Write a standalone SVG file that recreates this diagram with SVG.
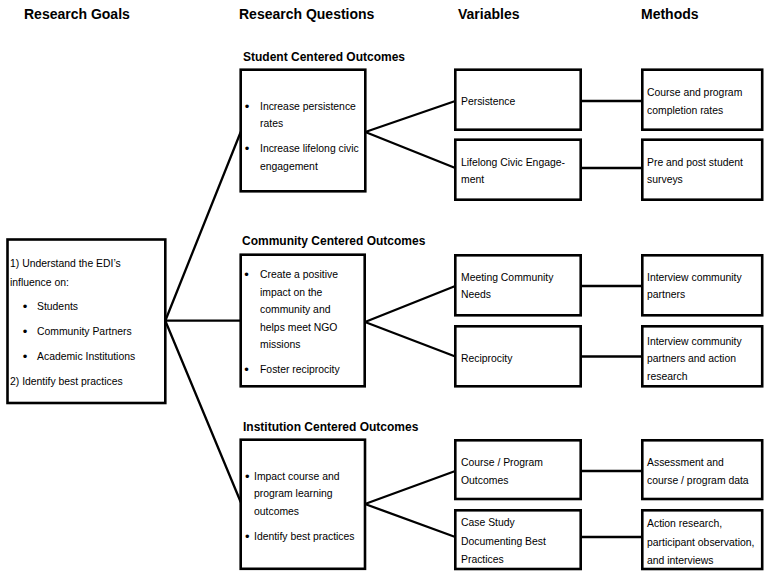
<svg xmlns="http://www.w3.org/2000/svg" width="764" height="571" viewBox="0 0 764 571">
<style>
.box{fill:#fff;stroke:#000;stroke-width:2.6}
.ln{stroke:#000;stroke-width:2.3;fill:none;stroke-linecap:round}
text{font-family:"Liberation Sans",Arial,sans-serif;fill:#000}
.h{font-size:14px;font-weight:bold}
.st{font-size:12px;font-weight:bold}
.t{font-size:10.4px}
.b{font-size:13px;text-anchor:middle}
</style>
<rect width="764" height="571" fill="#fff"/>
<g id="headers">
<text class="h" x="24" y="19">Research Goals</text>
<text class="h" x="239" y="19">Research Questions</text>
<text class="h" x="458" y="19">Variables</text>
<text class="h" x="641" y="19">Methods</text>
<text class="st" x="243" y="61">Student Centered Outcomes</text>
<text class="st" x="242" y="245">Community Centered Outcomes</text>
<text class="st" x="243" y="431">Institution Centered Outcomes</text>
</g>
<g id="connectors">
<line class="ln" x1="165.3" y1="320.7" x2="240.7" y2="132"/>
<line class="ln" x1="165.3" y1="320.7" x2="240.7" y2="320.7"/>
<line class="ln" x1="165.3" y1="320.7" x2="240.7" y2="502"/>
<line class="ln" x1="365.3" y1="132" x2="455.3" y2="101"/>
<line class="ln" x1="365.3" y1="132" x2="455.3" y2="168"/>
<line class="ln" x1="365" y1="322" x2="455.3" y2="286"/>
<line class="ln" x1="365" y1="322" x2="455.3" y2="356.5"/>
<line class="ln" x1="365" y1="504" x2="455.3" y2="471"/>
<line class="ln" x1="365" y1="504" x2="455.3" y2="537"/>
<line class="ln" x1="580.7" y1="101" x2="642.3" y2="101"/>
<line class="ln" x1="580.7" y1="168" x2="642.3" y2="168"/>
<line class="ln" x1="580.7" y1="286" x2="642.3" y2="286"/>
<line class="ln" x1="580.7" y1="356.5" x2="642.3" y2="356.5"/>
<line class="ln" x1="580.7" y1="471" x2="642.3" y2="471"/>
<line class="ln" x1="580.7" y1="537" x2="642.3" y2="537"/>
</g>
<g id="goal">
<rect class="box" x="7.5" y="239.5" width="157.8" height="163.5"/>
<text class="t" x="10" y="267">1) Understand the EDI’s</text>
<text class="t" x="10" y="286">influence on:</text>
<text class="b" x="25" y="311">•</text><text class="t" x="37" y="310">Students</text>
<text class="b" x="25" y="336">•</text><text class="t" x="37" y="335">Community Partners</text>
<text class="b" x="25" y="361">•</text><text class="t" x="37" y="360">Academic Institutions</text>
<text class="t" x="10" y="385">2) Identify best practices</text>
</g>
<g id="q-student">
<rect class="box" x="240.7" y="69.7" width="124.6" height="121.6"/>
<text class="b" x="247" y="111">•</text><text class="t" x="260" y="110">Increase persistence</text>
<text class="t" x="260" y="127">rates</text>
<text class="b" x="247" y="153">•</text><text class="t" x="260" y="152">Increase lifelong civic</text>
<text class="t" x="260" y="170">engagement</text>
</g>
<g id="q-community">
<rect class="box" x="240.7" y="254.7" width="124" height="131.6"/>
<text class="b" x="246.5" y="279">•</text><text class="t" x="260" y="278">Create a positive</text>
<text class="t" x="260" y="296">impact on the</text>
<text class="t" x="260" y="313">community and</text>
<text class="t" x="260" y="331">helps meet NGO</text>
<text class="t" x="260" y="348">missions</text>
<text class="b" x="246.5" y="374">•</text><text class="t" x="260" y="373">Foster reciprocity</text>
</g>
<g id="q-institution">
<rect class="box" x="240.7" y="439.7" width="124.3" height="129.1"/>
<text class="b" x="247.3" y="481">•</text><text class="t" x="254" y="480">Impact course and</text>
<text class="t" x="254" y="497">program learning</text>
<text class="t" x="254" y="515">outcomes</text>
<text class="b" x="247.3" y="541">•</text><text class="t" x="254" y="540">Identify best practices</text>
</g>
<g id="v-persistence">
<rect class="box" x="455.3" y="69.7" width="125.4" height="60"/>
<text class="t" x="461" y="105">Persistence</text>
</g>
<g id="v-civic">
<rect class="box" x="455.3" y="139.7" width="125.4" height="60"/>
<text class="t" x="461" y="166">Lifelong Civic Engage-</text>
<text class="t" x="461" y="183">ment</text>
</g>
<g id="v-needs">
<rect class="box" x="455.3" y="255.3" width="125.4" height="60"/>
<text class="t" x="461" y="281">Meeting Community</text>
<text class="t" x="461" y="298">Needs</text>
</g>
<g id="v-reciprocity">
<rect class="box" x="455.3" y="326.3" width="125.4" height="60"/>
<text class="t" x="461" y="362">Reciprocity</text>
</g>
<g id="v-outcomes">
<rect class="box" x="455.3" y="440.3" width="125.4" height="58.7"/>
<text class="t" x="461" y="466">Course / Program</text>
<text class="t" x="461" y="484">Outcomes</text>
</g>
<g id="v-casestudy">
<rect class="box" x="455.3" y="510.3" width="125.4" height="58.7"/>
<text class="t" x="461" y="526">Case Study</text>
<text class="t" x="461" y="545">Documenting Best</text>
<text class="t" x="461" y="563">Practices</text>
</g>
<g id="m-completion">
<rect class="box" x="642.3" y="69.7" width="119.9" height="60"/>
<text class="t" x="647" y="96">Course and program</text>
<text class="t" x="647" y="114">completion rates</text>
</g>
<g id="m-surveys">
<rect class="box" x="642.3" y="139.7" width="119.9" height="60"/>
<text class="t" x="647" y="166">Pre and post student</text>
<text class="t" x="647" y="183">surveys</text>
</g>
<g id="m-interview">
<rect class="box" x="642.3" y="255.3" width="119.9" height="60"/>
<text class="t" x="647" y="281">Interview community</text>
<text class="t" x="647" y="298">partners</text>
</g>
<g id="m-interview-action">
<rect class="box" x="642.3" y="326.3" width="119.9" height="60"/>
<text class="t" x="647" y="345">Interview community</text>
<text class="t" x="647" y="362">partners and action</text>
<text class="t" x="647" y="380">research</text>
</g>
<g id="m-assessment">
<rect class="box" x="642.3" y="440.3" width="119.9" height="58.7"/>
<text class="t" x="647" y="466">Assessment and</text>
<text class="t" x="647" y="484">course / program data</text>
</g>
<g id="m-action">
<rect class="box" x="642.3" y="510.3" width="119.9" height="58.7"/>
<text class="t" x="647" y="527">Action research,</text>
<text class="t" x="647" y="546">participant observation,</text>
<text class="t" x="647" y="564">and interviews</text>
</g>
</svg>
